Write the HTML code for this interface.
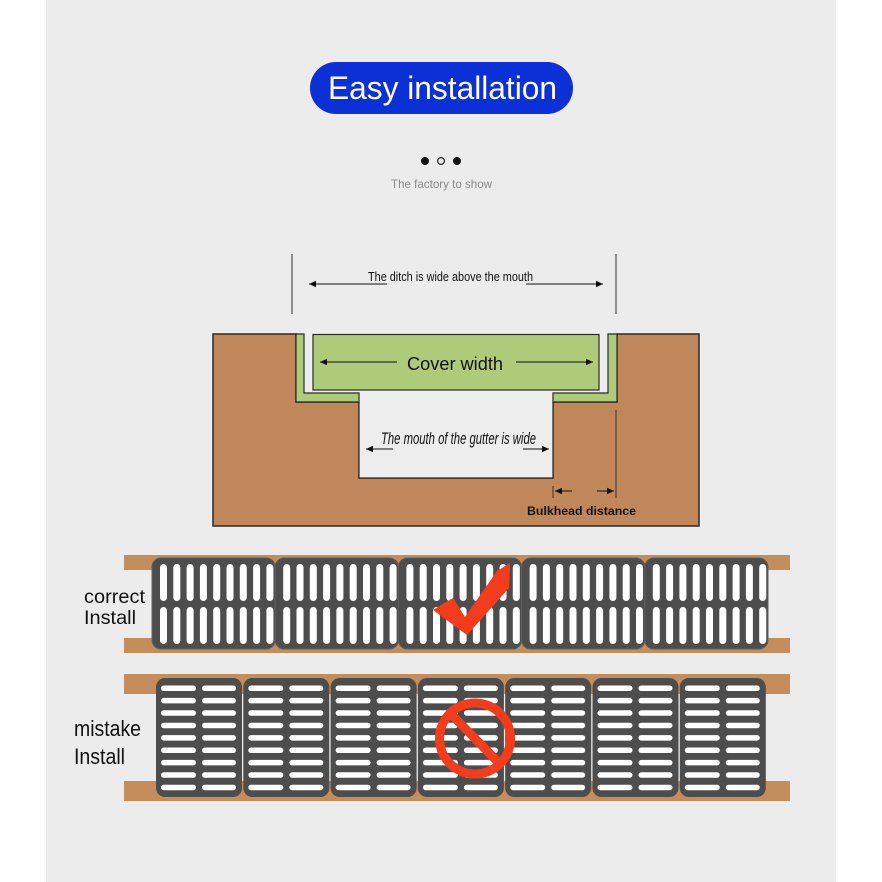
<!DOCTYPE html>
<html>
<head>
<meta charset="utf-8">
<style>
html,body{margin:0;padding:0;background:#ffffff;}
svg{display:block;}
text{font-family:"Liberation Sans",sans-serif;}
</style>
</head>
<body>
<svg width="882" height="882" viewBox="0 0 882 882" xmlns="http://www.w3.org/2000/svg">
  <defs>
    <marker id="ah" markerWidth="8" markerHeight="8" refX="7" refY="4" orient="auto" markerUnits="userSpaceOnUse">
      <path d="M0,0.8 L7,4 L0,7.2 Z" fill="#111"/>
    </marker>
  </defs>
  <!-- background panel -->
  <rect x="0" y="0" width="882" height="882" fill="#ffffff"/>
  <rect x="46" y="0" width="790" height="882" fill="#ececec"/>

  <!-- Title pill -->
  <rect x="310" y="62" width="263" height="52" rx="26" fill="#0b30d6"/>
  <text x="328" y="99" font-size="32" fill="#ffffff" textLength="229" lengthAdjust="spacingAndGlyphs">Easy installation</text>

  <!-- dots -->
  <circle cx="425" cy="161" r="4" fill="#111"/>
  <circle cx="441" cy="161" r="3.4" fill="none" stroke="#222" stroke-width="1.2"/>
  <circle cx="457" cy="161" r="4" fill="#111"/>
  <text x="391" y="188" font-size="12" fill="#8a8a8a" textLength="101" lengthAdjust="spacingAndGlyphs">The factory to show</text>

  <!-- Ditch diagram top dimension -->
  <line x1="292" y1="254" x2="292" y2="314" stroke="#333" stroke-width="1"/>
  <line x1="616" y1="254" x2="616" y2="314" stroke="#333" stroke-width="1"/>
  <line x1="387" y1="284" x2="309" y2="284" stroke="#111" stroke-width="1" marker-end="url(#ah)"/>
  <line x1="526" y1="284" x2="603" y2="284" stroke="#111" stroke-width="1" marker-end="url(#ah)"/>
  <text x="368" y="281" font-size="13" fill="#111" textLength="165" lengthAdjust="spacingAndGlyphs">The ditch is wide above the mouth</text>

  <!-- brown soil block with cut -->
  <polygon points="213,334 296,334 296,402 359,402 359,478 553,478 553,402 617,402 617,334 699,334 699,526 213,526" fill="#c0885a" stroke="#2a2a2a" stroke-width="1.5"/>
  <!-- mouth / gap fill -->
  <polygon points="304,334 304,393 359,393 359,478 553,478 553,393 608,393 608,334" fill="#ededed"/>
  <!-- green liners -->
  <polygon points="296,334 296,402 359,402 359,393 304,393 304,334" fill="#aecb7a" stroke="#2a2a2a" stroke-width="1.2"/>
  <polygon points="617,334 617,402 553,402 553,393 608,393 608,334" fill="#aecb7a" stroke="#2a2a2a" stroke-width="1.2"/>
  <line x1="359" y1="402" x2="359" y2="478" stroke="#2a2a2a" stroke-width="1.2"/>
  <line x1="553" y1="402" x2="553" y2="478" stroke="#2a2a2a" stroke-width="1.2"/>
  <line x1="359" y1="478" x2="553" y2="478" stroke="#2a2a2a" stroke-width="1.2"/>
  <!-- cover -->
  <rect x="313" y="334.5" width="286" height="55.5" fill="#aecb7a" stroke="#2a2a2a" stroke-width="1.2"/>
  <line x1="397" y1="362" x2="320" y2="362" stroke="#111" stroke-width="1" marker-end="url(#ah)"/>
  <line x1="516" y1="362" x2="593" y2="362" stroke="#111" stroke-width="1" marker-end="url(#ah)"/>
  <text x="407" y="370" font-size="18" fill="#111" textLength="96" lengthAdjust="spacingAndGlyphs">Cover width</text>

  <!-- mouth text -->
  <text x="381" y="444" font-size="17" font-style="italic" fill="#111" textLength="155" lengthAdjust="spacingAndGlyphs">The mouth of the gutter is wide</text>
  <line x1="393" y1="449" x2="366" y2="449" stroke="#111" stroke-width="1" marker-end="url(#ah)"/>
  <line x1="523" y1="449" x2="549" y2="449" stroke="#111" stroke-width="1" marker-end="url(#ah)"/>

  <!-- bulkhead -->
  <line x1="553" y1="486" x2="553" y2="498" stroke="#333" stroke-width="1"/>
  <line x1="616" y1="410" x2="616" y2="498" stroke="#333" stroke-width="1"/>
  <line x1="572" y1="491" x2="555" y2="491" stroke="#111" stroke-width="1" marker-end="url(#ah)"/>
  <line x1="597" y1="491" x2="614" y2="491" stroke="#111" stroke-width="1" marker-end="url(#ah)"/>
  <text x="527" y="515" font-size="12" font-weight="bold" fill="#111" textLength="109" lengthAdjust="spacingAndGlyphs">Bulkhead distance</text>

  <!-- correct install strips -->
  <rect x="124" y="555" width="666" height="15" fill="#c48d5c"/>
  <rect x="124" y="638" width="666" height="15" fill="#c48d5c"/>
  <g id="correct">
    <g fill="#4d4d4d" stroke="#5e5e5e" stroke-width="1">
      <rect x="152" y="558" width="123.2" height="91" rx="9"/>
      <rect x="275.2" y="558" width="123.2" height="91" rx="9"/>
      <rect x="398.4" y="558" width="123.2" height="91" rx="9"/>
      <rect x="521.6" y="558" width="123.2" height="91" rx="9"/>
      <rect x="644.8" y="558" width="123.2" height="91" rx="9"/>
    </g>
    <g fill="#ffffff">
      <!-- slots generated inline -->
      <g id="cslots"></g>
    </g>
  </g>

  <!-- mistake install strips -->
  <rect x="124" y="674" width="666" height="20" fill="#c48d5c"/>
  <rect x="124" y="781" width="666" height="20" fill="#c48d5c"/>
  <g fill="#4d4d4d">
    <rect x="156" y="678" width="86" height="119" rx="9"/>
    <rect x="243.3" y="678" width="86" height="119" rx="9"/>
    <rect x="330.6" y="678" width="86" height="119" rx="9"/>
    <rect x="417.9" y="678" width="86" height="119" rx="9"/>
    <rect x="505.2" y="678" width="86" height="119" rx="9"/>
    <rect x="592.5" y="678" width="86" height="119" rx="9"/>
    <rect x="679.8" y="678" width="86" height="119" rx="9"/>
  </g>
  <g id="mslots" fill="#ffffff"></g>

  <!-- check mark -->
  <polygon points="433,610 453,598 465,617 497,571 510,563 509,588 467,635" fill="#f23c1c"/>

  <!-- no sign -->
  <circle cx="475" cy="738.5" r="35.5" fill="none" stroke="#f23c1c" stroke-width="9"/>
  <line x1="451" y1="714" x2="499" y2="763" stroke="#f23c1c" stroke-width="9"/>

  <!-- labels -->
  <text x="84" y="603" font-size="19" fill="#111" textLength="61" lengthAdjust="spacingAndGlyphs">correct</text>
  <text x="84" y="624" font-size="19" fill="#111" textLength="52" lengthAdjust="spacingAndGlyphs">Install</text>
  <text x="74" y="736" font-size="22" fill="#111" textLength="67" lengthAdjust="spacingAndGlyphs">mistake</text>
  <text x="74" y="764" font-size="22" fill="#111" textLength="51" lengthAdjust="spacingAndGlyphs">Install</text>

  <!-- static slots (correct) -->
  <g fill="#ffffff">
    <!-- panel slots: 5 panels x 9 slots x 2 rows -->
    <g transform="translate(152,0)">
      <g id="p1">
        <rect x="8" y="564" width="7" height="37" rx="3.5"/><rect x="21.3" y="564" width="7" height="37" rx="3.5"/><rect x="34.6" y="564" width="7" height="37" rx="3.5"/><rect x="47.9" y="564" width="7" height="37" rx="3.5"/><rect x="61.2" y="564" width="7" height="37" rx="3.5"/><rect x="74.5" y="564" width="7" height="37" rx="3.5"/><rect x="87.8" y="564" width="7" height="37" rx="3.5"/><rect x="101.1" y="564" width="7" height="37" rx="3.5"/><rect x="114.4" y="564" width="7" height="37" rx="3.5"/>
        <rect x="8" y="607" width="7" height="37" rx="3.5"/><rect x="21.3" y="607" width="7" height="37" rx="3.5"/><rect x="34.6" y="607" width="7" height="37" rx="3.5"/><rect x="47.9" y="607" width="7" height="37" rx="3.5"/><rect x="61.2" y="607" width="7" height="37" rx="3.5"/><rect x="74.5" y="607" width="7" height="37" rx="3.5"/><rect x="87.8" y="607" width="7" height="37" rx="3.5"/><rect x="101.1" y="607" width="7" height="37" rx="3.5"/><rect x="114.4" y="607" width="7" height="37" rx="3.5"/>
      </g>
    </g>
    <use href="#p1" transform="translate(275.2,0)"/>
    <use href="#p1" transform="translate(398.4,0)"/>
    <use href="#p1" transform="translate(521.6,0)"/>
    <use href="#p1" transform="translate(644.8,0)"/>
  </g>

  <!-- static slots (mistake) -->
  <g fill="#ffffff">
    <g transform="translate(156,0)">
      <g id="m1">
        <rect x="5" y="685.5" width="35" height="5.5" rx="2.75"/><rect x="46" y="685.5" width="34" height="5.5" rx="2.75"/>
        <rect x="5" y="697.9" width="35" height="5.5" rx="2.75"/><rect x="46" y="697.9" width="34" height="5.5" rx="2.75"/>
        <rect x="5" y="710.3" width="35" height="5.5" rx="2.75"/><rect x="46" y="710.3" width="34" height="5.5" rx="2.75"/>
        <rect x="5" y="722.7" width="35" height="5.5" rx="2.75"/><rect x="46" y="722.7" width="34" height="5.5" rx="2.75"/>
        <rect x="5" y="735.1" width="35" height="5.5" rx="2.75"/><rect x="46" y="735.1" width="34" height="5.5" rx="2.75"/>
        <rect x="5" y="747.5" width="35" height="5.5" rx="2.75"/><rect x="46" y="747.5" width="34" height="5.5" rx="2.75"/>
        <rect x="5" y="759.9" width="35" height="5.5" rx="2.75"/><rect x="46" y="759.9" width="34" height="5.5" rx="2.75"/>
        <rect x="5" y="772.3" width="35" height="5.5" rx="2.75"/><rect x="46" y="772.3" width="34" height="5.5" rx="2.75"/>
        <rect x="5" y="784.7" width="35" height="5.5" rx="2.75"/><rect x="46" y="784.7" width="34" height="5.5" rx="2.75"/>
      </g>
    </g>
    <use href="#m1" transform="translate(243.3,0)"/>
    <use href="#m1" transform="translate(330.6,0)"/>
    <use href="#m1" transform="translate(417.9,0)"/>
    <use href="#m1" transform="translate(505.2,0)"/>
    <use href="#m1" transform="translate(592.5,0)"/>
    <use href="#m1" transform="translate(679.8,0)"/>
  </g>

  <!-- redraw check and no-sign on top of slots -->
  <polygon points="433,610 453,598 465,617 497,571 510,563 509,588 467,635" fill="#f23c1c"/>
  <circle cx="475" cy="738.5" r="35.5" fill="none" stroke="#f23c1c" stroke-width="9"/>
  <line x1="451" y1="714" x2="499" y2="763" stroke="#f23c1c" stroke-width="9"/>
</svg>
</body>
</html>
